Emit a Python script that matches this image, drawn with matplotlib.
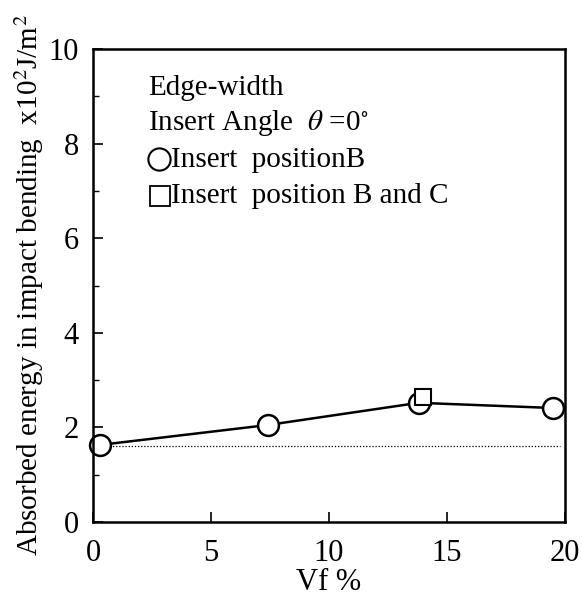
import matplotlib.pyplot as plt
from matplotlib.ticker import MultipleLocator

# Data
vf_pos_b = [0.3, 7.4, 13.8, 19.5]
energy_pos_b = [1.63, 2.05, 2.52, 2.41]
vf_pos_bc = [14.0]
energy_pos_bc = [2.64]
baseline_energy = 1.61

plt.rcParams['font.family'] = ['Liberation Serif', 'DejaVu Sans']
plt.rcParams['mathtext.fontset'] = 'stix'

fig = plt.figure(figsize=(5.82, 6.03), dpi=100)
ax = fig.add_axes([93 / 582, 1 - 522 / 603, 472 / 582, 473 / 603])

# Dotted reference line (unreinforced value)
ax.plot([0.3, 19.8], [baseline_energy, baseline_energy], color='black',
        linestyle=(0, (1, 1.5)), linewidth=0.9, zorder=1)

ax.plot(vf_pos_b, energy_pos_b, color='black', linewidth=1.8, marker='o',
        markersize=15, markerfacecolor='white', markeredgecolor='black',
        markeredgewidth=1.8, zorder=2, clip_on=False)
ax.plot(vf_pos_bc, energy_pos_bc, linestyle='none', marker='s', markersize=12,
        markerfacecolor='white', markeredgecolor='black', markeredgewidth=1.5,
        zorder=3)

ax.set_xlim(0, 20)
ax.set_ylim(0, 10)
ax.xaxis.set_major_locator(MultipleLocator(5))
ax.yaxis.set_major_locator(MultipleLocator(2))
ax.yaxis.set_minor_locator(MultipleLocator(1))
ax.tick_params(axis='both', which='major', direction='in', length=7, width=1.2,
               labelsize=22)
ax.tick_params(axis='x', which='major', pad=12)
ax.tick_params(axis='y', which='major', pad=10)
ax.tick_params(axis='y', which='minor', direction='in', length=4, width=1.0)
for s in ax.spines.values():
    s.set_linewidth(1.8)

ax.set_xlabel('Vf %', fontsize=22, labelpad=0)
ax.set_ylabel('Absorbed energy in impact bending  x10$^{2}$J/m$^{2}$',
              fontsize=21, labelpad=2)

# Legend-like text block
fs = 21
ax.text(0.1165, 0.903, 'Edge-width', transform=ax.transAxes, fontsize=fs)
ax.text(0.1165, 0.829, r'Insert Angle  $\theta$ =0$^{\circ}$',
        transform=ax.transAxes, fontsize=fs)
ax.plot([0.140], [0.767], transform=ax.transAxes, marker='o', markersize=16,
        markerfacecolor='white', markeredgecolor='black', markeredgewidth=1.5,
        linestyle='none', clip_on=False)
ax.text(0.166, 0.751, 'Insert  positionB', transform=ax.transAxes, fontsize=fs)
ax.plot([0.143], [0.689], transform=ax.transAxes, marker='s', markersize=14,
        markerfacecolor='white', markeredgecolor='black', markeredgewidth=1.3,
        linestyle='none', clip_on=False)
ax.text(0.166, 0.674, 'Insert  position B and C', transform=ax.transAxes,
        fontsize=fs)

plt.savefig('out.png', dpi=100)
plt.close()
